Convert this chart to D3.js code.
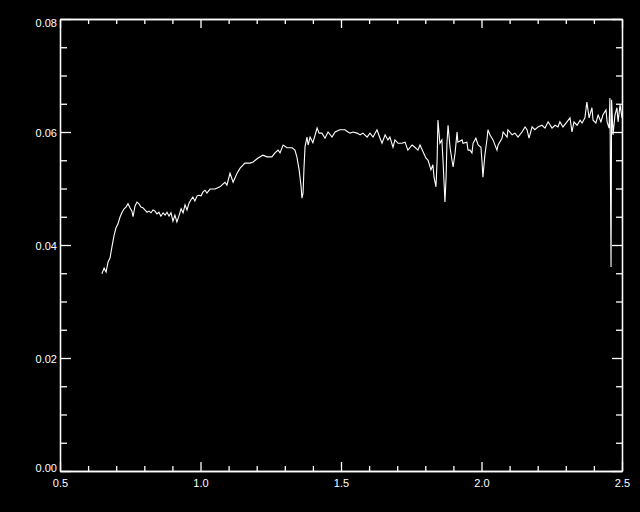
<!DOCTYPE html>
<html>
<head>
<meta charset="utf-8">
<script src="https://cdn.jsdelivr.net/npm/d3@7"></script>
<style>
html,body{margin:0;padding:0;background:#000;}
svg{display:block;}
</style>
</head>
<body>
<div id="chart"></div>
<script>
// Wavelength (micron) and flux values
const wavelength = [
0.649,0.657,0.664,0.671,0.678,0.685,0.692,0.699,0.706,0.714,0.721,0.728,0.735,0.742,0.749,0.756,0.760,0.767,0.774,0.781,
0.788,0.795,0.802,0.810,0.817,0.824,0.831,0.838,0.845,0.852,0.859,0.867,0.874,0.881,0.888,0.895,0.902,0.909,0.916,0.923,
0.931,0.938,0.945,0.952,0.959,0.966,0.973,0.980,0.988,0.995,1.002,1.009,1.016,1.023,1.034,1.052,1.069,1.087,1.094,1.105,
1.116,1.130,1.141,1.158,1.176,1.187,1.205,1.222,1.237,1.254,1.265,1.276,1.283,1.294,1.308,1.326,1.336,1.343,1.351,1.358,
1.361,1.365,1.368,1.372,1.379,1.383,1.390,1.400,1.415,1.422,1.432,1.443,1.454,1.468,1.479,1.496,1.514,1.525,1.532,1.543,
1.557,1.568,1.578,1.593,1.603,1.614,1.628,1.639,1.646,1.657,1.667,1.674,1.685,1.692,1.703,1.717,1.728,1.738,1.753,1.763,
1.774,1.781,1.792,1.802,1.810,1.820,1.827,1.831,1.838,1.842,1.845,1.852,1.859,1.863,1.870,1.874,1.877,1.881,1.888,1.895,
1.899,1.906,1.913,1.916,1.931,1.934,1.948,1.952,1.959,1.966,1.970,1.980,1.988,1.998,2.002,2.005,2.012,2.020,2.023,2.030,
2.041,2.055,2.059,2.073,2.077,2.091,2.094,2.109,2.119,2.130,2.144,2.155,2.162,2.169,2.180,2.190,2.201,2.215,2.226,2.237,
2.251,2.262,2.272,2.279,2.290,2.304,2.315,2.322,2.329,2.340,2.351,2.358,2.368,2.375,2.383,2.393,2.397,2.407,2.415,2.425,
2.432,2.443,2.447,2.454,2.457,2.459,2.461,2.463,2.468,2.475,2.482,2.486,2.493,2.500
];
const flux = [
0.0349,0.0359,0.0352,0.0370,0.0377,0.0397,0.0416,0.0430,0.0437,0.0450,0.0458,0.0464,0.0467,0.0473,0.0466,0.0460,0.0450,0.0469,0.0476,0.0473,
0.0467,0.0466,0.0462,0.0458,0.0460,0.0457,0.0462,0.0460,0.0455,0.0458,0.0451,0.0457,0.0453,0.0458,0.0451,0.0457,0.0442,0.0453,0.0441,0.0451,
0.0464,0.0457,0.0471,0.0462,0.0474,0.0480,0.0485,0.0478,0.0487,0.0488,0.0487,0.0494,0.0497,0.0492,0.0499,0.0499,0.0503,0.0511,0.0506,0.0527,
0.0511,0.0527,0.0536,0.0545,0.0545,0.0547,0.0554,0.0559,0.0556,0.0556,0.0563,0.0568,0.0563,0.0577,0.0572,0.0572,0.0568,0.0556,0.0533,0.0503,
0.0483,0.0492,0.0533,0.0574,0.0591,0.0577,0.0591,0.0581,0.0607,0.0598,0.0598,0.0589,0.0600,0.0591,0.0600,0.0604,0.0604,0.0600,0.0598,0.0600,
0.0598,0.0595,0.0598,0.0591,0.0598,0.0591,0.0604,0.0589,0.0580,0.0595,0.0586,0.0591,0.0573,0.0586,0.0580,0.0580,0.0582,0.0568,0.0577,0.0573,
0.0568,0.0577,0.0565,0.0554,0.0550,0.0533,0.0542,0.0520,0.0503,0.0550,0.0621,0.0580,0.0586,0.0550,0.0476,0.0520,0.0580,0.0612,0.0573,0.0550,
0.0538,0.0563,0.0600,0.0582,0.0586,0.0580,0.0582,0.0568,0.0568,0.0563,0.0580,0.0589,0.0577,0.0573,0.0547,0.0520,0.0559,0.0589,0.0604,0.0595,
0.0586,0.0568,0.0577,0.0589,0.0600,0.0591,0.0604,0.0595,0.0598,0.0591,0.0600,0.0609,0.0604,0.0589,0.0609,0.0604,0.0609,0.0612,0.0607,0.0618,
0.0607,0.0612,0.0609,0.0618,0.0609,0.0618,0.0625,0.0600,0.0618,0.0612,0.0621,0.0616,0.0625,0.0653,0.0625,0.0643,0.0621,0.0616,0.0630,0.0618,
0.0630,0.0639,0.0618,0.0607,0.0660,0.0510,0.0361,0.0657,0.0595,0.0630,0.0643,0.0618,0.0648,0.0625
];
const xMajorTicks = [0.5, 1.0, 1.5, 2.0, 2.5];
const xTickLabels = ["0.5", "1.0", "1.5", "2.0", "2.5"];
const yMajorTicks = [0.00, 0.02, 0.04, 0.06, 0.08];
const yTickLabels = ["0.00", "0.02", "0.04", "0.06", "0.08"];

const W = 640, H = 512;
const margin = {left: 60, right: 18, top: 19, bottom: 41};
const svg = d3.select("#chart").append("svg").attr("width", W).attr("height", H)
  .style("background", "#000");

const x = d3.scaleLinear().domain([0.5, 2.5]).range([margin.left, W - margin.right]);
const y = d3.scaleLinear().domain([0, 0.08]).range([H - margin.bottom, margin.top]);

const xMinor = d3.range(5, 26).map(d => d / 10).filter(d => !xMajorTicks.some(m => Math.abs(m - d) < 1e-9));
const yMinor = d3.range(0, 17).map(d => d * 0.005).filter(d => !yMajorTicks.some(m => Math.abs(m - d) < 1e-9));

function styleAxis(g) {
  g.selectAll("path.domain").attr("stroke", "#fff").attr("stroke-width", 1.3);
  g.selectAll(".tick line").attr("stroke", "#fff").attr("stroke-width", 1.3);
  g.selectAll(".tick text").attr("fill", "#fff");
}
const font = "'Liberation Sans', Arial, sans-serif";

// Bottom axis
const gB = svg.append("g").attr("transform", `translate(0,${y(0)})`)
  .call(d3.axisBottom(x).tickValues(xMajorTicks).tickSize(-9).tickSizeOuter(0)
    .tickFormat((d, i) => xTickLabels[i]).tickPadding(10))
  .attr("font-family", font).attr("font-size", 11);
styleAxis(gB);
gB.selectAll(".tick text").attr("dy", "0.71em").attr("y", 8.5);
const gBm = svg.append("g").attr("transform", `translate(0,${y(0)})`)
  .call(d3.axisBottom(x).tickValues(xMinor).tickSize(-5).tickSizeOuter(0).tickFormat(""));
styleAxis(gBm);

// Top axis
const gT = svg.append("g").attr("transform", `translate(0,${y(0.08)})`)
  .call(d3.axisTop(x).tickValues(xMajorTicks).tickSize(-9).tickSizeOuter(0).tickFormat(""));
styleAxis(gT);
const gTm = svg.append("g").attr("transform", `translate(0,${y(0.08)})`)
  .call(d3.axisTop(x).tickValues(xMinor).tickSize(-5).tickSizeOuter(0).tickFormat(""));
styleAxis(gTm);

// Left axis
const gL = svg.append("g").attr("transform", `translate(${x(0.5)},0)`)
  .call(d3.axisLeft(y).tickValues(yMajorTicks).tickSize(-11).tickSizeOuter(0)
    .tickFormat((d, i) => yTickLabels[i]).tickPadding(3))
  .attr("font-family", font).attr("font-size", 11);
styleAxis(gL);
gL.selectAll(".tick text")
  .attr("x", -3)
  .attr("dy", d => {
    const yy = y(d);
    const c = Math.max(margin.top + 4, Math.min(H - margin.bottom - 3.5, yy + 1));
    return (c - yy + 3.9) + "px";
  });
const gLm = svg.append("g").attr("transform", `translate(${x(0.5)},0)`)
  .call(d3.axisLeft(y).tickValues(yMinor).tickSize(-7).tickSizeOuter(0).tickFormat(""));
styleAxis(gLm);

// Right axis
const gR = svg.append("g").attr("transform", `translate(${x(2.5)},0)`)
  .call(d3.axisRight(y).tickValues(yMajorTicks).tickSize(-10).tickSizeOuter(0).tickFormat(""));
styleAxis(gR);
const gRm = svg.append("g").attr("transform", `translate(${x(2.5)},0)`)
  .call(d3.axisRight(y).tickValues(yMinor).tickSize(-6).tickSizeOuter(0).tickFormat(""));
styleAxis(gRm);

// Spectrum line
const pts = wavelength.map((w, i) => [w, flux[i]]);
svg.append("path")
  .datum(pts)
  .attr("fill", "none")
  .attr("stroke", "#fff")
  .attr("stroke-width", 1.1)
  .attr("stroke-linejoin", "miter")
  .attr("d", d3.line().x(d => x(d[0])).y(d => y(d[1])));
</script>
</body>
</html>
